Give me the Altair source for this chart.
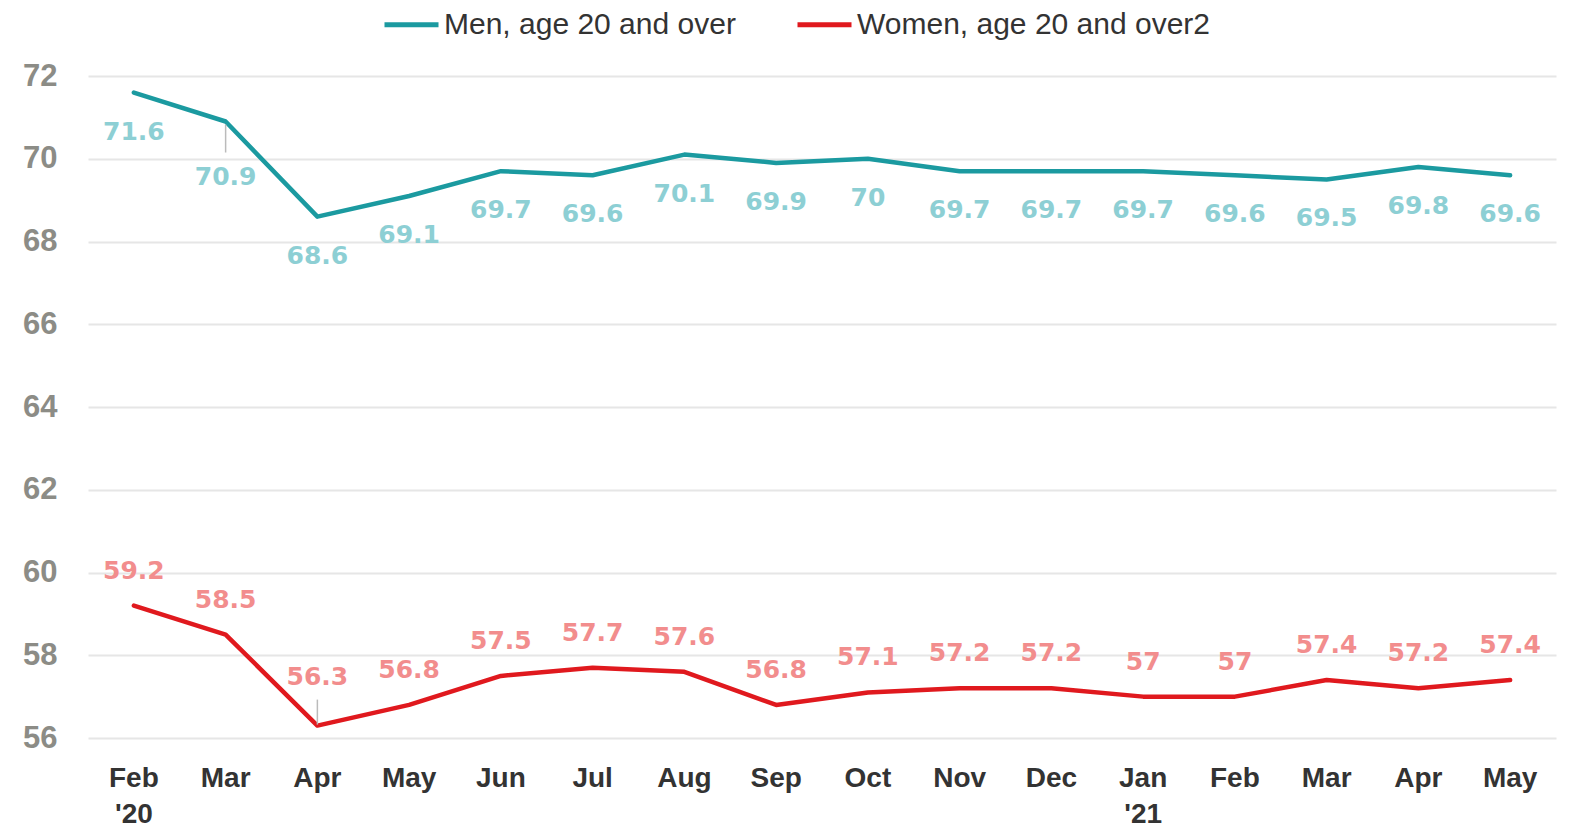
import altair as alt
import pandas as pd

months = ["Feb 2020", "Mar 2020", "Apr 2020", "May 2020", "Jun 2020", "Jul 2020",
          "Aug 2020", "Sep 2020", "Oct 2020", "Nov 2020", "Dec 2020", "Jan 2021",
          "Feb 2021", "Mar 2021", "Apr 2021", "May 2021"]
men = [71.6, 70.9, 68.6, 69.1, 69.7, 69.6, 70.1, 69.9, 70, 69.7, 69.7, 69.7, 69.6, 69.5, 69.8, 69.6]
women = [59.2, 58.5, 56.3, 56.8, 57.5, 57.7, 57.6, 56.8, 57.1, 57.2, 57.2, 57, 57, 57.4, 57.2, 57.4]
series_names = ["Men, age 20 and over", "Women, age 20 and over2"]
line_colors = ["#1b9aa0", "#e0191e"]
label_colors = ["#8dcfd4", "#f28d8d"]
y_ticks = [56, 58, 60, 62, 64, 66, 68, 70, 72]

rows = []
for m, v in zip(months, men):
    rows.append({"month": m, "value": v, "series": series_names[0], "label": f"{v:g}"})
for m, v in zip(months, women):
    rows.append({"month": m, "value": v, "series": series_names[1], "label": f"{v:g}"})
df = pd.DataFrame(rows)

FONT = "Liberation Sans"
LFONT = "DejaVu Sans"

x_scale = alt.Scale(padding=0)
x_enc = alt.X("month:O", sort=months, title=None, scale=x_scale,
              axis=alt.Axis(labelAngle=0, domain=False, ticks=False, grid=False,
                            labelFont=FONT, labelFontWeight="bold", labelFontSize=28,
                            labelColor="#333333", labelPadding=26, labelLineHeight=36,
                            labelBaseline="top",
                            labelExpr="(indexof(datum.value, 'Jan') == 0 || datum.value == 'Feb 2020') ? [slice(datum.value, 0, 3), \"'\" + slice(datum.value, -2)] : slice(datum.value, 0, 3)"))
x_plain = alt.X("month:O", sort=months, scale=x_scale)
y_enc = alt.Y("value:Q", title=None,
              scale=alt.Scale(domain=[56, 72], nice=False, zero=False),
              axis=alt.Axis(values=y_ticks, domain=False, ticks=False, grid=True,
                            gridColor="#e6e6e6", gridWidth=2,
                            labelFont=FONT, labelFontWeight="bold", labelFontSize=31,
                            labelColor="#8c8c86", labelPadding=31))

base = alt.Chart(df)

lines = base.mark_line(strokeWidth=4.5, strokeCap="round", strokeJoin="round").encode(
    x=x_enc, y=y_enc,
    color=alt.Color("series:N", scale=alt.Scale(domain=series_names, range=line_colors),
                    legend=alt.Legend(title=None, orient="none", direction="horizontal",
                                      legendX=294, legendY=-81,
                                      symbolType="stroke", symbolSize=2916,
                                      symbolStrokeWidth=5, labelFont=FONT,
                                      labelFontSize=30, labelColor="#333333",
                                      labelLimit=500, labelOffset=3, columnPadding=51)),
)

men_f = f"datum.series == '{series_names[0]}'"
women_f = f"datum.series == '{series_names[1]}'"

def text_layer(flt, color, dy):
    return base.transform_filter(flt).mark_text(
        font=LFONT, fontWeight="bold", fontSize=25, color=color, dy=dy, baseline="middle"
    ).encode(x=x_plain, y="value:Q", text="label:N")

men_text = text_layer(men_f + " && datum.month != 'Mar 2020'", label_colors[0], 39)
men_text_sp = text_layer(men_f + " && datum.month == 'Mar 2020'", label_colors[0], 55)
women_text = text_layer(women_f + " && datum.month != 'Apr 2020'", label_colors[1], -35)
women_text_sp = text_layer(women_f + " && datum.month == 'Apr 2020'", label_colors[1], -49)

lead_men = base.transform_filter(men_f + " && datum.month == 'Mar 2020'").mark_rule(
    color="#bbbbbb", strokeWidth=1.5, yOffset=3, y2Offset=31
).encode(x=x_plain, y="value:Q", y2="value:Q")
lead_women = base.transform_filter(women_f + " && datum.month == 'Apr 2020'").mark_rule(
    color="#bbbbbb", strokeWidth=1.5, yOffset=-1, y2Offset=-26
).encode(x=x_plain, y="value:Q", y2="value:Q")

chart = alt.layer(lines, lead_men, lead_women, men_text, men_text_sp, women_text, women_text_sp).properties(
    width=1468, height=662,
    autosize=alt.AutoSizeParams(type="none"),
    padding={"left": 80, "top": 68, "right": 5, "bottom": 90},
).configure(background="white").configure_view(strokeWidth=0)

chart.save("out.html", embed_options={"renderer": "svg", "actions": False})
